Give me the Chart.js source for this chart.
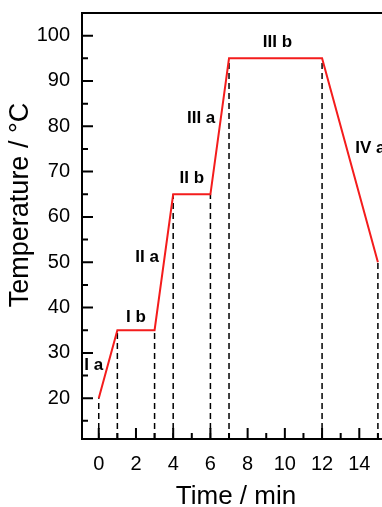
<!DOCTYPE html>
<html>
<head>
<meta charset="utf-8">
<script src="https://cdn.jsdelivr.net/npm/chart.js@4/dist/chart.umd.min.js"></script>
<style>
  html, body { margin: 0; padding: 0; background: #fff; overflow: hidden; }
  #wrap { position: absolute; left: 0; top: 0; width: 390px; height: 507px; }
</style>
</head>
<body>
<div id="wrap"><canvas id="chart" width="390" height="507"></canvas></div>
<script>
  // heating program, time in min, temperature in °C
  const timeMin = [0, 1, 3, 4, 6, 7, 12, 15];
  const tempC = [20, 35, 35, 65, 65, 95, 95, 50];

  // stage labels and where they sit (data units)
  const stageNames = ["I a", "I b", "II a", "II b", "III a", "III b", "IV a"];
  const stageX = [-0.27, 2.0, 2.6, 5.0, 5.5, 9.6, 14.6];
  const stageY = [27.3, 37.9, 51.1, 68.6, 81.8, 98.6, 75.2];

  const xTicks = [0, 2, 4, 6, 8, 10, 12, 14];
  const xMinor = [1, 3, 5, 7, 9, 11, 13, 15];
  const yTicks = [20, 30, 40, 50, 60, 70, 80, 90, 100];
  const yMinor = [15, 25, 35, 45, 55, 65, 75, 85, 95];

  const xMin = -0.9, xMax = 15.65;
  const yMin = 11, yMax = 105;

  const FONT = "'Liberation Sans', Arial, sans-serif";

  const datasets = [{
    data: timeMin.map((t, i) => ({ x: t, y: tempC[i] })),
    borderColor: "#f41c1c",
    borderWidth: 2,
    pointRadius: 0,
    tension: 0
  }];
  // dashed drop lines from each corner to the time axis
  timeMin.forEach((t, i) => {
    datasets.push({
      data: [{ x: t, y: yMin }, { x: t, y: tempC[i] }],
      borderColor: "#000",
      borderWidth: 1.5,
      borderDash: [6, 4],
      pointRadius: 0
    });
  });

  const extras = {
    id: "extras",
    afterDraw(chart) {
      const { ctx, chartArea: a, scales: { x, y } } = chart;
      ctx.save();
      ctx.strokeStyle = "#000";
      ctx.lineWidth = 2;
      // top frame line
      ctx.beginPath();
      ctx.moveTo(a.left - 1, a.top);
      ctx.lineTo(a.right, a.top);
      ctx.stroke();
      // inward tick marks
      ctx.beginPath();
      xTicks.forEach(v => { const p = x.getPixelForValue(v); ctx.moveTo(p, a.bottom); ctx.lineTo(p, a.bottom - 11); });
      xMinor.forEach(v => { const p = x.getPixelForValue(v); ctx.moveTo(p, a.bottom); ctx.lineTo(p, a.bottom - 6); });
      yTicks.forEach(v => { const p = y.getPixelForValue(v); ctx.moveTo(a.left, p); ctx.lineTo(a.left + 11, p); });
      yMinor.forEach(v => { const p = y.getPixelForValue(v); ctx.moveTo(a.left, p); ctx.lineTo(a.left + 6, p); });
      ctx.stroke();
      // stage names
      ctx.fillStyle = "#000";
      ctx.font = "bold 17px " + FONT;
      ctx.textAlign = "center";
      ctx.textBaseline = "middle";
      stageNames.forEach((s, i) => {
        ctx.fillText(s, x.getPixelForValue(stageX[i]), y.getPixelForValue(stageY[i]));
      });
      // y axis title
      ctx.font = "27px " + FONT;
      ctx.translate(21, 205);
      ctx.rotate(-Math.PI / 2);
      ctx.fillText("Temperature / °C", 0, 0);
      ctx.restore();
    }
  };

  new Chart(document.getElementById("chart"), {
    type: "line",
    data: { datasets },
    plugins: [extras],
    options: {
      responsive: false,
      devicePixelRatio: 1,
      animation: false,
      layout: { padding: { top: 13, right: 0, left: 0, bottom: 0 } },
      plugins: { legend: { display: false }, tooltip: { enabled: false } },
      scales: {
        x: {
          type: "linear",
          min: xMin,
          max: xMax,
          afterFit: s => { s.height = 68; s.paddingLeft = 0; s.paddingRight = 0; },
          afterBuildTicks: s => { s.ticks = xTicks.map(v => ({ value: v })); },
          grid: { display: false },
          border: { display: true, color: "#000", width: 2 },
          ticks: { color: "#000", padding: 5, maxRotation: 0, font: { family: FONT, size: 20 } },
          title: {
            display: true,
            text: "Time / min",
            color: "#000",
            font: { family: FONT, size: 26, lineHeight: "20px" },
            padding: { top: 0, bottom: 0 }
          }
        },
        y: {
          min: yMin,
          max: yMax,
          afterFit: s => { s.width = 82; s.paddingTop = 0; s.paddingBottom = 0; },
          afterBuildTicks: s => { s.ticks = yTicks.map(v => ({ value: v })); },
          grid: { display: false },
          border: { display: true, color: "#000", width: 2 },
          ticks: { color: "#000", padding: 4, font: { family: FONT, size: 20 } }
        }
      }
    }
  });
</script>
</body>
</html>
